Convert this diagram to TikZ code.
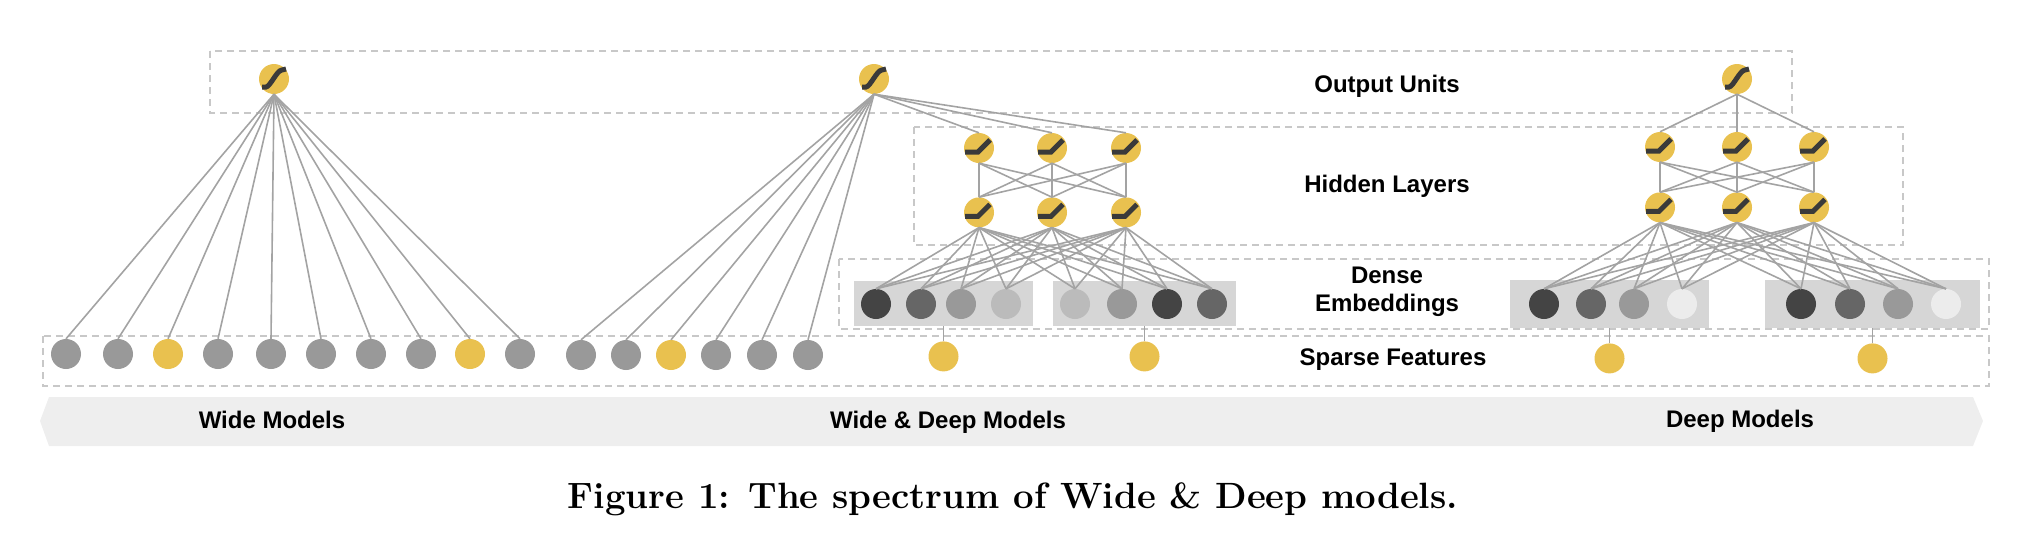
\documentclass[tikz,border=0pt]{standalone}
\usepackage{fontspec}
\setsansfont{Liberation Sans}
\usetikzlibrary{positioning}
\definecolor{uyel}{RGB}{233,193,79}
\definecolor{udark}{RGB}{58,58,58}
\definecolor{sgray}{RGB}{153,153,153}
\definecolor{lgray}{RGB}{200,200,200}
\definecolor{egray}{RGB}{163,163,163}
\definecolor{bgray}{RGB}{238,238,238}
\definecolor{ggray}{RGB}{214,214,214}
\definecolor{e1}{RGB}{68,68,68}
\definecolor{e2}{RGB}{102,102,102}
\definecolor{e3}{RGB}{153,153,153}
\definecolor{e4}{RGB}{187,187,187}
\definecolor{e5}{RGB}{236,236,236}

\begin{document}
\begin{tikzpicture}[%
  x=1pt,y=-1pt,%
  unit/.style={circle,fill=uyel,minimum size=30pt,inner sep=0pt},%
  sparse/.style={circle,fill=sgray,minimum size=30pt,inner sep=0pt},%
  emb/.style={circle,minimum size=30pt,inner sep=0pt},%
  grp/.style={rectangle,fill=ggray,inner sep=0pt},%
  conn/.style={draw=egray,line width=1.6pt},%
  layerbox/.style={draw=lgray,line width=2pt,dash pattern=on 7pt off 5pt},%
  icon/.style={draw=udark,line width=5pt},%
  lbl/.style={font=\fontsize{24}{28}\selectfont\sffamily\bfseries,align=center,inner sep=0pt},%
  capt/.style={font=\fontsize{36.6}{44}\selectfont\bfseries,inner sep=0pt},%
  sigmicon/.pic={\draw[icon] (-12,8) -- (-8,8) .. controls (-4,8) and (3,-9) .. (8,-9) -- (12,-10);},%
  reluicon/.pic={\draw[icon] (-14,4) -- (-1,4) -- (11,-8);}%
  ]
  \useasboundingbox (0,0) rectangle (2020,552);
%
  \draw[layerbox] (210,51) rectangle (1792,113);
  \draw[layerbox] (914,127) rectangle (1903,245);
  \draw[layerbox] (839,259) rectangle (1989,329);
  \draw[layerbox] (43,336) rectangle (1989,386);
%
  \fill[bgray] (40,421) -- (49,397) -- (1973,397) -- (1983,421) -- (1973,446) -- (49,446) -- cycle;
%
  \node[unit] (o-w)  at (274,79)  {};
  \node[unit] (o-wd) at (874,79)  {};
  \node[unit] (o-d)  at (1737,79) {};
%
  \foreach \x [count=\i] in {979,1052,1126} {
    \node[unit] (h1-\i) at (\x,148) {};
    \node[unit] (h2-\i) [below=34pt of h1-\i] {};
  }
  \foreach \x [count=\i] in {1660,1737,1814} {
    \node[unit] (dh1-\i) at (\x,147) {};
    \node[unit] (dh2-\i) [below=30pt of dh1-\i] {};
  }
%
  \node[grp,minimum width=179pt,minimum height=45pt] (eg1) at (943.5,303.5) {};
  \node[grp,minimum width=183pt,minimum height=45pt] (eg2) at (1144.5,303.5) {};
  \node[grp,minimum width=199pt,minimum height=48pt] (eg3) at (1609.5,304) {};
  \node[grp,minimum width=215pt,minimum height=48pt] (eg4) at (1872.5,304) {};
%
  \foreach \x/\c [count=\i] in {876/e1,921/e2,961/e3,1006/e4,1075/e4,1122/e3,1167/e1,1212/e2}
    \node[emb,fill=\c] (e-\i) at (\x,304) {};
  \foreach \x/\c [count=\i] in {1544/e1,1591/e2,1634/e3,1682/e5,1801/e1,1850/e2,1898/e3,1946/e5}
    \node[emb,fill=\c] (de-\i) at (\x,304) {};
%
  \foreach \x/\c [count=\i] in {66/sgray,118/sgray,168/uyel,218/sgray,271/sgray,321/sgray,371/sgray,421/sgray,470/uyel,520/sgray}
    \node[sparse,fill=\c] (ws-\i) at (\x,354) {};
  \foreach \x/\c [count=\i] in {581/sgray,626/sgray,671/uyel,716/sgray,762/sgray,808/sgray}
    \node[sparse,fill=\c] (wds-\i) at (\x,355) {};
  \foreach \g in {1,...,4}
    \node[sparse,fill=uyel] (sy\g) [below=15pt of eg\g] {};
%
  \foreach \i in {1,...,10} \draw[conn] (o-w.south) -- (ws-\i.north);
  \foreach \i in {1,...,6} \draw[conn] (o-wd.south) -- (wds-\i.north);
  \foreach \j in {1,2,3} {
    \draw[conn] (o-wd.south) -- (h1-\j.north);
    \draw[conn] (o-d.south) -- (dh1-\j.north);
    \foreach \k in {1,2,3} {
      \draw[conn] (h1-\j.south) -- (h2-\k.north);
      \draw[conn] (dh1-\j.south) -- (dh2-\k.north);
    }
    \foreach \k in {1,...,8} {
      \draw[conn] (h2-\j.south) -- (e-\k.north);
      \draw[conn] (dh2-\j.south) -- (de-\k.north);
    }
  }
  \foreach \g in {1,...,4} \draw[conn] (eg\g) -- (sy\g);
%
  \foreach \n in {o-w,o-wd,o-d} \pic at (\n) {sigmicon};
  \foreach \n in {h1-1,h1-2,h1-3,h2-1,h2-2,h2-3,dh1-1,dh1-2,dh1-3,dh2-1,dh2-2,dh2-3}
    \pic at (\n) {reluicon};
%
  \node[lbl,anchor=base] (t-out) at (1387,92)  {Output Units};
  \node[lbl,anchor=base] (t-hid) at (1387,192) {Hidden Layers};
  \node[lbl]             (t-emb) at (1387,292) {Dense\\Embeddings};
  \node[lbl,anchor=base] (t-sp)  at (1393,365) {Sparse Features};
%
  \node[lbl,anchor=base] (t-wide) at (272,428)  {Wide Models};
  \node[lbl,anchor=base] (t-wd)   at (948,428)  {Wide \& Deep Models};
  \node[lbl,anchor=base] (t-deep) at (1740,427) {Deep Models};
%
  \node[capt,anchor=base] (cap) at (1013,508) {Figure 1: The spectrum of Wide \& Deep models.};
%
\end{tikzpicture}
\end{document}
